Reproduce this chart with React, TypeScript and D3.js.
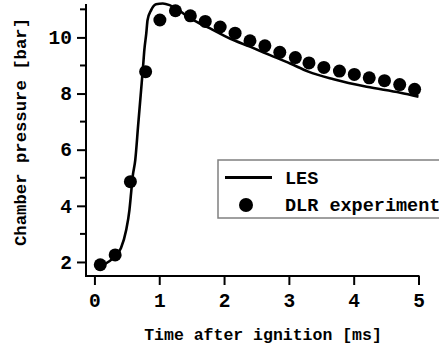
import { useEffect, useRef } from 'react';
import * as d3 from 'd3';

// LES simulation
const lesTime = [0.1, 0.335, 0.41, 0.49, 0.54, 0.566, 0.59, 0.63, 0.675, 0.72, 0.75, 0.77, 0.8, 0.82, 0.875, 0.95, 1.055, 1.16, 1.26, 1.48, 1.785, 2.09, 2.4, 2.71, 3.02, 3.3, 3.69, 4.2, 4.72, 5.0];
const lesPressure = [1.86, 2.25, 2.5, 3.14, 3.85, 4.46, 5.04, 5.63, 6.88, 8.12, 8.95, 9.55, 10.14, 10.62, 10.97, 11.18, 11.21, 11.15, 11.03, 10.68, 10.32, 9.96, 9.67, 9.37, 9.07, 8.78, 8.51, 8.24, 8.03, 7.89];

// DLR experiment
const expTime = [0.09, 0.32, 0.555, 0.79, 1.01, 1.25, 1.48, 1.71, 1.94, 2.17, 2.4, 2.63, 2.86, 3.1, 3.31, 3.54, 3.78, 4.01, 4.24, 4.475, 4.71, 4.94];
const expPressure = [1.9, 2.25, 4.86, 8.78, 10.62, 10.95, 10.77, 10.57, 10.37, 10.15, 9.88, 9.7, 9.47, 9.28, 9.09, 8.93, 8.8, 8.68, 8.56, 8.46, 8.32, 8.15];

const xTicks = [0, 1, 2, 3, 4, 5];
const yTicks = [2, 4, 6, 8, 10];
const yMinorTicks = [3, 5, 7, 9, 11];
const legendLabels = ['LES', 'DLR experiment'];

const W = 439;
const H = 348;
const FONT = '"Liberation Mono", "Courier New", monospace';

export default function App() {
  const ref = useRef<SVGSVGElement>(null);

  useEffect(() => {
    if (!ref.current) return;
    const svg = d3.select(ref.current);
    svg.selectAll('*').remove();

    const x = d3.scaleLinear().domain([-0.13, 5]).range([86, 418.5]);
    const y = d3.scaleLinear().domain([1.5, 11.19]).range([276, 4]);

    const g = svg.append('g');

    // y axis
    const yAxis = g.append('g').attr('transform', `translate(${x.range()[0]},0)`);
    yAxis.call(d3.axisLeft(y).tickValues(yTicks).tickSize(9).tickPadding(5).tickFormat(d3.format('d')) as any);
    yAxis.select('.domain').remove();
    yAxis.selectAll('.tick line').attr('stroke', '#000').attr('stroke-width', 2);
    yAxis.selectAll('.tick text')
      .attr('font-family', FONT).attr('font-weight', 'bold').attr('font-size', 19.5).attr('fill', '#000');
    yAxis.selectAll('line.minor')
      .data(yMinorTicks)
      .join('line')
      .attr('class', 'minor')
      .attr('x1', -6).attr('x2', 0)
      .attr('y1', (d) => y(d)).attr('y2', (d) => y(d))
      .attr('stroke', '#000').attr('stroke-width', 2);
    g.append('line')
      .attr('x1', x.range()[0]).attr('x2', x.range()[0])
      .attr('y1', y.range()[1]).attr('y2', y.range()[0] + 1)
      .attr('stroke', '#000').attr('stroke-width', 2);

    // x axis
    const xAxis = g.append('g').attr('transform', `translate(0,${y.range()[0]})`);
    xAxis.call(d3.axisBottom(x).tickValues(xTicks).tickSize(9).tickPadding(8).tickFormat(d3.format('d')) as any);
    xAxis.select('.domain').remove();
    xAxis.selectAll('.tick line').attr('stroke', '#000').attr('stroke-width', 2);
    xAxis.selectAll('.tick text')
      .attr('font-family', FONT).attr('font-weight', 'bold').attr('font-size', 19.5).attr('fill', '#000');
    g.append('line')
      .attr('x1', x.range()[0] - 1).attr('x2', x.range()[1] + 1)
      .attr('y1', y.range()[0]).attr('y2', y.range()[0])
      .attr('stroke', '#000').attr('stroke-width', 2);

    // axis titles
    g.append('text')
      .attr('x', 263).attr('y', 340)
      .attr('text-anchor', 'middle')
      .attr('font-family', FONT).attr('font-weight', 'bold').attr('font-size', 16.5)
      .text('Time after ignition [ms]');
    g.append('text')
      .attr('transform', 'translate(26,132) rotate(-90)')
      .attr('text-anchor', 'middle')
      .attr('font-family', FONT).attr('font-weight', 'bold').attr('font-size', 17.3)
      .text('Chamber pressure [bar]');

    // LES line
    const les = lesTime.map((t, i) => [t, lesPressure[i]] as [number, number]);
    const line = d3.line<[number, number]>().x((d) => x(d[0])).y((d) => y(d[1])).curve(d3.curveMonotoneX);
    g.append('path').datum(les).attr('fill', 'none').attr('stroke', '#000').attr('stroke-width', 2.6).attr('d', line);

    // experiment markers
    g.selectAll('circle.exp')
      .data(expTime.map((t, i) => [t, expPressure[i]]))
      .join('circle')
      .attr('class', 'exp')
      .attr('cx', (d) => x(d[0]))
      .attr('cy', (d) => y(d[1]))
      .attr('r', 6.5)
      .attr('fill', '#000');

    // legend
    const lg = g.append('g').attr('transform', 'translate(218,160)');
    lg.append('rect').attr('x', 0).attr('y', 0).attr('width', 240).attr('height', 58)
      .attr('fill', '#fff').attr('stroke', '#808080').attr('stroke-width', 1.5);
    lg.append('line').attr('x1', 7).attr('x2', 54).attr('y1', 17.5).attr('y2', 17.5)
      .attr('stroke', '#000').attr('stroke-width', 3);
    lg.append('circle').attr('cx', 28).attr('cy', 45).attr('r', 7).attr('fill', '#000');
    lg.selectAll('text.lbl')
      .data(legendLabels)
      .join('text')
      .attr('class', 'lbl')
      .attr('x', 67)
      .attr('y', (_, i) => 17.5 + i * 27.5)
      .attr('dy', '0.35em')
      .attr('font-family', FONT).attr('font-weight', 'bold').attr('font-size', 18.5)
      .text((d) => d);
  }, []);

  return (
    <svg
      ref={ref}
      width={W}
      height={H}
      style={{ position: 'absolute', left: 0, top: 0, background: '#fff' }}
    />
  );
}
